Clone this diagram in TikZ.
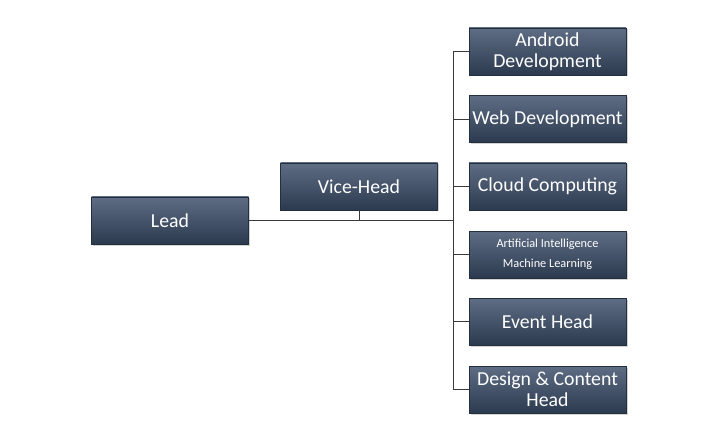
\documentclass[tikz,border=0pt]{standalone}
\usepackage{fontspec}
\setmainfont{Carlito}
\usetikzlibrary{shadows}
\definecolor{boxtop}{HTML}{5E6D84}
\definecolor{boxbot}{HTML}{2C3A4F}
\definecolor{linec}{HTML}{3A3A3A}
\begin{document}
\begin{tikzpicture}[x=1pt,y=-1pt,
  orgbox/.style={rectangle, minimum width=157pt, minimum height=47pt, inner sep=1pt,
    top color=boxtop, bottom color=boxbot, draw=boxbot!80!black, line width=0.4pt,
    drop shadow={shadow xshift=1.5pt, shadow yshift=-1.5pt, opacity=0.35},
    text=white, font=\fontsize{19.8}{21}\selectfont, align=center},
  conn/.style={draw=linec, line width=0.9pt}]
\useasboundingbox (0,0) rectangle (720,422);
\node[orgbox] (lead) at (170,220.5) {Lead};
\node[orgbox] (vice) at (359,186.5) {Vice-Head};
\node[orgbox] (android) at (547.5,51.5) {Android\\Development};
\node[orgbox] (web) at (547.5,119) {Web Development};
\node[orgbox] (cloud) at (547.5,186.5) {Cloud Computing};
\node[orgbox, font=\fontsize{12.3}{19.5}\selectfont] (ai) at (547.5,254.5) {Artificial Intelligence\\Machine Learning};
\node[orgbox] (event) at (547.5,321.5) {Event Head};
\node[orgbox] (design) at (547.5,389.5) {Design \& Content\\Head};
\coordinate (bustop) at (453,51.5);
\coordinate (busbot) at (453,389.5);
\coordinate (busmid) at (453,220.5);
\draw[conn] (android.west) -- (bustop) -- (busbot) -- (design.west);
\draw[conn] (web.west) -- (web.west -| bustop);
\draw[conn] (cloud.west) -- (cloud.west -| bustop);
\draw[conn] (ai.west) -- (ai.west -| bustop);
\draw[conn] (event.west) -- (event.west -| bustop);
\draw[conn] (lead.east) -- (busmid);
\draw[conn] (vice.south) -- (vice.south |- busmid);
\end{tikzpicture}
\end{document}
